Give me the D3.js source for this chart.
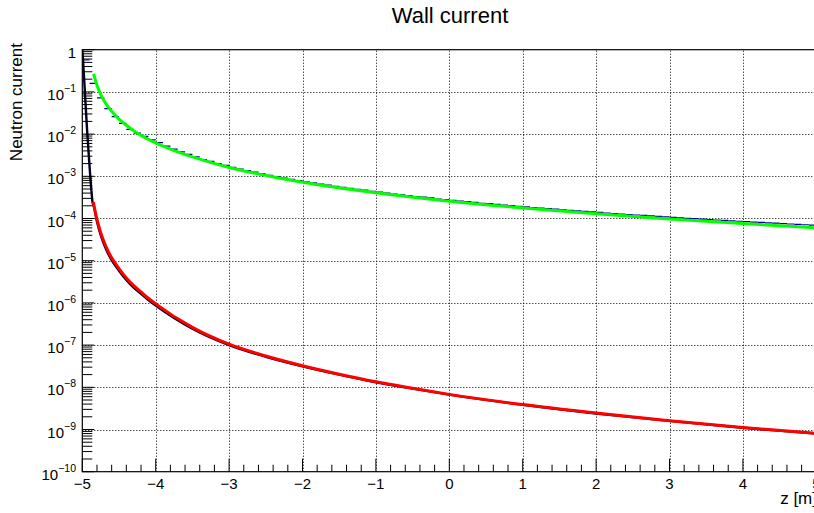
<!DOCTYPE html>
<html>
<head>
<meta charset="utf-8">
<script src="https://cdn.jsdelivr.net/npm/d3@7"></script>
<style>
  html, body { margin: 0; padding: 0; background: #fff; }
  svg { display: block; font-family: "Liberation Sans", Arial, Helvetica, sans-serif; }
</style>
</head>
<body>
<svg id="chart" width="814" height="513"></svg>
<script>
// ---- data ----
const title = "Wall current";
const xTitle = "z [m]";
const yTitle = "Neutron current";

const xTickValues = [-5, -4, -3, -2, -1, 0, 1, 2, 3, 4, 5];
const yDecadeExps = [0, -1, -2, -3, -4, -5, -6, -7, -8, -9, -10];

// upper histogram: 100 bins of width 0.1 between z = -5 and z = 5
const histLo = -5, histHi = 5;
const upperHist = [
  0.57, 0.16, 0.072, 0.040, 0.026, 0.018, 0.013, 0.0105, 0.0088, 0.0073,
  0.0063, 0.0052, 0.0044, 0.0038, 0.0033, 0.0029, 0.0025, 0.00225, 0.0020, 0.00181,
  0.00164, 0.00149, 0.00136, 0.00125, 0.00115, 0.00106, 0.00098, 0.00091, 0.00085, 0.00079,
  0.00074, 0.00070, 0.00065, 0.00062, 0.00058, 0.00055, 0.00052, 0.00049, 0.00047, 0.00044,
  0.00042, 0.00040, 0.00038, 0.000365, 0.00035, 0.00033, 0.00032, 0.00031, 0.00029, 0.00028,
  0.00027, 0.00026, 0.00025, 0.00024, 0.00023, 0.000224, 0.000216, 0.000209, 0.000202, 0.000195,
  0.000189, 0.000182, 0.000177, 0.000171, 0.000166, 0.000161, 0.000156, 0.000151, 0.000147, 0.000143,
  0.000139, 0.000135, 0.000131, 0.000128, 0.000124, 0.000121, 0.000118, 0.000115, 0.000112, 0.000109,
  0.000106, 0.000104, 0.000101, 0.000099, 0.0000966, 0.0000944, 0.0000922, 0.0000901, 0.0000881, 0.0000861,
  0.0000842, 0.0000824, 0.0000806, 0.0000789, 0.0000773, 0.0000757, 0.0000741, 0.0000726, 0.0000711, 0.0000697
];

// upper model curve (green)
const upperFitZ = [-4.846, -4.8, -4.75, -4.7, -4.6, -4.5, -4.4, -4.3, -4.2, -4.0, -3.75, -3.5, -3.0, -2.5,
  -2.0, -1.0, 0, 1, 2, 3, 4, 5];
const upperFit = [0.269, 0.1445, 0.0871, 0.0603, 0.0347, 0.02265, 0.0162, 0.0120, 0.00933, 0.00617, 0.00407, 0.00288, 0.00162, 0.00105,
  0.000724, 0.000407, 0.000257, 0.000178, 0.000129, 0.0000977, 0.0000759, 0.0000603];

// lower histogram (fine bins, drawn as a line)
const lowerHistZ = [-5.0, -4.99, -4.965, -4.935, -4.9, -4.877, -4.86, -4.85, -4.8, -4.75, -4.7, -4.65, -4.6, -4.5, -4.4, -4.3, -4.2, -4.1,
  -4.0, -3.5, -3.0, -2.5, -2.0, -1.5, -1.0, -0.5, 0, 1, 2, 3, 4, 5];
const lowerHist = [1.0, 0.57, 0.10, 0.0126, 0.0016, 0.00048, 0.00024, 0.000215, 0.000084, 0.000041, 0.0000235, 0.0000148, 0.0000103, 5.8e-6, 3.5e-6, 2.3e-6, 1.65e-6, 1.17e-6,
  8.7e-7, 2.45e-7, 1.0e-7, 5.3e-8, 3.15e-8, 2.0e-8, 1.32e-8, 9.3e-9, 6.7e-9, 3.85e-9, 2.4e-9, 1.6e-9, 1.1e-9, 8.0e-10];

// lower model curve (red)
const lowerFitZ = [-4.85, -4.8, -4.75, -4.7, -4.65, -4.6, -4.5, -4.4, -4.3, -4.2, -4.1, -4.0, -3.5, -3.0, -2.5, -2.0, -1.5,
  -1.0, -0.5, 0, 1, 2, 3, 4, 5];
const lowerFit = [2.45e-4, 9.5e-5, 4.7e-5, 2.7e-5, 1.7e-5, 1.17e-5, 6.5e-6, 3.9e-6, 2.57e-6, 1.82e-6, 1.29e-6, 9.5e-7, 2.63e-7, 1.05e-7, 5.5e-8, 3.24e-8, 2.04e-8,
  1.35e-8, 9.5e-9, 6.8e-9, 3.9e-9, 2.45e-9, 1.62e-9, 1.12e-9, 8.1e-10];

// ---- layout ----
const svg = d3.select("#chart");
const frame = { left: 82.3, right: 816.3, top: 49.7, bottom: 471.7 };

const x = d3.scaleLinear().domain([-5, 5]).range([frame.left, frame.right]);
const y = d3.scaleLog().domain([1e-10, 1]).range([frame.bottom, frame.top]);

svg.append("rect").attr("width", 814).attr("height", 513).attr("fill", "#fff");

// grid
const grid = svg.append("g").attr("stroke", "#000").attr("stroke-width", 1).attr("stroke-dasharray", "1,2");
xTickValues.filter(v => v > -5 && v < 5).forEach(v => {
  grid.append("line").attr("x1", Math.round(x(v)) + 0.5).attr("x2", Math.round(x(v)) + 0.5)
    .attr("y1", frame.bottom).attr("y2", frame.top);
});
yDecadeExps.filter(e => e > -10 && e < 0).forEach(e => {
  const yy = Math.round(y(Math.pow(10, e))) + 0.5;
  grid.append("line").attr("x1", frame.left).attr("x2", frame.right).attr("y1", yy).attr("y2", yy);
});

// clip to the frame
svg.append("clipPath").attr("id", "plotClip").append("rect")
  .attr("x", frame.left).attr("y", frame.top)
  .attr("width", frame.right - frame.left).attr("height", frame.bottom - frame.top);
const plot = svg.append("g").attr("clip-path", "url(#plotClip)");

// upper histogram: horizontal segment over each bin
const binW = (histHi - histLo) / upperHist.length;
plot.append("g").attr("stroke", "#000099").attr("stroke-width", 1.2)
  .selectAll("line").data(upperHist).join("line")
  .attr("x1", (d, i) => x(histLo + i * binW))
  .attr("x2", (d, i) => x(histLo + (i + 1) * binW))
  .attr("y1", d => y(d)).attr("y2", d => y(d));

const line = d3.line().x(d => x(d[0])).y(d => y(d[1])).curve(d3.curveMonotoneX);

// lower histogram
plot.append("path")
  .datum(d3.zip(lowerHistZ, lowerHist))
  .attr("d", line).attr("fill", "none").attr("stroke", "#000022").attr("stroke-width", 2.4);

// model curves
plot.append("path")
  .datum(d3.zip(upperFitZ, upperFit))
  .attr("d", line).attr("fill", "none").attr("stroke", "#00ff00").attr("stroke-width", 3);
plot.append("path")
  .datum(d3.zip(lowerFitZ, lowerFit))
  .attr("d", line).attr("fill", "none").attr("stroke", "#ff0000").attr("stroke-width", 3);

// frame
const fr = svg.append("g").attr("stroke", "#000").attr("stroke-width", 1.2).attr("fill", "none");
fr.append("rect").attr("x", frame.left).attr("y", frame.top)
  .attr("width", frame.right - frame.left).attr("height", frame.bottom - frame.top);

// x axis ticks
const xMinor = d3.range(-5, 5.0001, 0.2).map(v => Math.round(v * 10) / 10);
const xt = svg.append("g").attr("stroke", "#000").attr("stroke-width", 1);
xMinor.forEach(v => {
  const major = Math.abs(v - Math.round(v)) < 1e-6;
  xt.append("line").attr("x1", x(v)).attr("x2", x(v))
    .attr("y1", frame.bottom).attr("y2", frame.bottom - (major ? 13 : 7));
});
svg.append("g").selectAll("text").data(xTickValues).join("text")
  .attr("x", d => x(d)).attr("y", frame.bottom + 17)
  .attr("text-anchor", "middle").attr("font-size", 15).attr("fill", "#000")
  .text(d => d < 0 ? "\u2212" + Math.abs(d) : String(d));

// y axis ticks (decades and 2..9 subdivisions)
const yt = svg.append("g").attr("stroke", "#000").attr("stroke-width", 1);
yDecadeExps.forEach(e => {
  const base = Math.pow(10, e);
  yt.append("line").attr("x1", frame.left).attr("x2", frame.left + 12)
    .attr("y1", y(base)).attr("y2", y(base));
  if (e < 0) {
    d3.range(2, 10).forEach(k => {
      const v = k * base;
      yt.append("line").attr("x1", frame.left).attr("x2", frame.left + 10)
        .attr("y1", y(v)).attr("y2", y(v));
    });
  }
});
const yl = svg.append("g").attr("fill", "#000");
yDecadeExps.forEach(e => {
  const yy = y(Math.pow(10, e));
  const t = yl.append("text").attr("x", 76).attr("y", yy + 8)
    .attr("text-anchor", "end").attr("font-size", 15);
  if (e === 0) {
    t.text("1");
  } else {
    t.append("tspan").text("10");
    t.append("tspan").attr("dy", -8).attr("font-size", 10.5).text("\u2212" + Math.abs(e));
  }
});

// titles
svg.append("text").attr("x", 450).attr("y", 23).attr("text-anchor", "middle")
  .attr("font-size", 22).attr("fill", "#000").text(title);
svg.append("text").attr("x", 817).attr("y", 504).attr("text-anchor", "end")
  .attr("font-size", 17).attr("fill", "#000").text(xTitle);
svg.append("text").attr("transform", "translate(22,43) rotate(-90)")
  .attr("text-anchor", "end").attr("font-size", 17).attr("fill", "#000").text(yTitle);
</script>
</body>
</html>
